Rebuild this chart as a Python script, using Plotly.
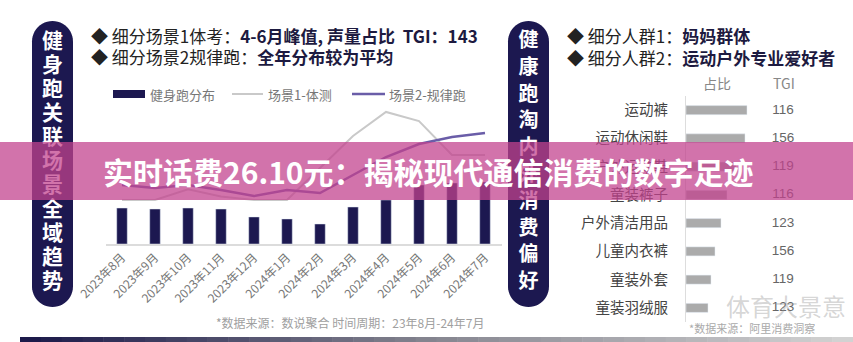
import plotly.graph_objects as go

W, H = 853, 342
FONT = "Noto Sans CJK SC, Noto Sans, sans-serif"

# ---------------- data ----------------
months = ["2023年8月", "2023年9月", "2023年10月", "2023年11月", "2023年12月", "2024年1月",
          "2024年2月", "2024年3月", "2024年4月", "2024年5月", "2024年6月", "2024年7月"]
run_dist = [25.0, 24.3, 25.0, 24.3, 18.8, 17.4, 13.9, 25.7, 30.6, 41.0, 42.4, 43.1]
scene1_test = [30.6, 30.6, 38.0, 33.0, 30.6, 30.6, 52.8, 75.0, 91.7, 85.4, 61.8, 61.8]
scene2_run = [41.0, 38.9, 41.0, 37.5, 33.3, 37.5, 35.4, 47.9, 60.4, 69.4, 74.3, 77.1]

categories = ["运动裤", "运动休闲鞋", "户外运动鞋", "童装裤子", "户外清洁用品", "儿童内衣裤", "童装外套", "童装羽绒服"]
share = [6.1, 5.9, 5.0, 4.1, 3.5, 2.9, 2.5, 2.2]
tgi = [116, 156, 119, 116, 123, 156, 119, 123]

left_pill_text = list("健身跑关联场景全域趋势")
right_pill_text = list("健康跑淘内外消费偏好")

NAVY = "#1c1850"
GRAY_LINE = "#c9c9c9"
PURPLE = "#6a5da8"
BAR_GRAY = "#ababab"


def fx(px):
    return px / W


def fy(py):
    return 1 - py / H


fig = go.Figure()

# ---------------- left chart ----------------
fig.add_trace(go.Bar(x=months, y=run_dist, marker_color=NAVY, width=0.32,
                     xaxis="x", yaxis="y", showlegend=False))
fig.add_trace(go.Scatter(x=months, y=scene1_test, mode="lines",
                         line=dict(color=GRAY_LINE, width=2), xaxis="x", yaxis="y", showlegend=False))
fig.add_trace(go.Scatter(x=months, y=scene2_run, mode="lines",
                         line=dict(color=PURPLE, width=2.5), xaxis="x", yaxis="y", showlegend=False))

# ---------------- right chart ----------------
fig.add_trace(go.Bar(y=categories, x=share, orientation="h", marker_color=BAR_GRAY, width=0.32,
                     xaxis="x2", yaxis="y2", showlegend=False))
fig.add_trace(go.Scatter(y=categories, x=[9.7] * len(categories), mode="text",
                         text=[str(v) for v in tgi],
                         textfont=dict(family="Liberation Sans, Arial", size=13.5, color="#666"),
                         xaxis="x2", yaxis="y2", showlegend=False, cliponaxis=False))

# ---------------- pill texts (on pixel overlay axes) ----------------
lp_y = [43 + 24 * i for i in range(len(left_pill_text))]
rp_y = [42 + 26.8 * i for i in range(len(right_pill_text))]
fig.add_trace(go.Scatter(x=[52.5] * len(left_pill_text), y=lp_y, mode="text", text=left_pill_text,
                         textfont=dict(family=FONT, size=21, color="white", weight="bold"),
                         xaxis="x3", yaxis="y3", showlegend=False, cliponaxis=False))
fig.add_trace(go.Scatter(x=[528.5] * len(right_pill_text), y=rp_y, mode="text", text=right_pill_text,
                         textfont=dict(family=FONT, size=20, color="white", weight="bold"),
                         xaxis="x3", yaxis="y3", showlegend=False, cliponaxis=False))


def pill_path(x0, x1, y0, y1, n=24):
    import math
    r = (x1 - x0) / 2
    cx = (x0 + x1) / 2
    pts = []
    for i in range(n + 1):
        t = math.pi - math.pi * i / n
        pts.append((cx + r * math.cos(t), y0 + r - r * math.sin(t)))
    for i in range(n + 1):
        t = -math.pi * i / n
        pts.append((cx + r * math.cos(t), y1 - r - r * math.sin(t)))
    return "M " + " L ".join(f"{x:.2f},{y:.2f}" for x, y in pts) + " Z"


shapes = []
shapes.append(dict(type="path", path=pill_path(32, 73, 21, 307), xref="x3", yref="y3",
                   fillcolor=NAVY, line=dict(width=0), layer="below"))
shapes.append(dict(type="path", path=pill_path(508, 549, 21, 307), xref="x3", yref="y3",
                   fillcolor=NAVY, line=dict(width=0), layer="below"))

# legend swatches
shapes.append(dict(type="rect", x0=113, x1=145, y0=90, y1=98, xref="x3", yref="y3",
                   fillcolor=NAVY, line=dict(width=0), layer="below"))
shapes.append(dict(type="line", x0=232, x1=263, y0=94, y1=94, xref="x3", yref="y3",
                   line=dict(color=GRAY_LINE, width=2), layer="below"))
shapes.append(dict(type="line", x0=352, x1=385, y0=94, y1=94, xref="x3", yref="y3",
                   line=dict(color=PURPLE, width=2.5), layer="below"))

# bottom gradient strip
def lerp(a, b, t):
    return tuple(int(a[i] + (b[i] - a[i]) * t) for i in range(3))

c0, c1, c2 = (28, 26, 74), (135, 135, 145), (210, 210, 210)
nseg = 40
x_start, x_end = 20, 853
for i in range(nseg):
    t = i / (nseg - 1)
    col = lerp(c0, c1, t * 2) if t < 0.5 else lerp(c1, c2, (t - 0.5) * 2)
    xa = x_start + (x_end - x_start) * i / nseg
    xb = x_start + (x_end - x_start) * (i + 1) / nseg + 0.5
    shapes.append(dict(type="rect", x0=xa, x1=xb, y0=337, y1=343, xref="x3", yref="y3",
                       fillcolor="rgb(%d,%d,%d)" % col, line=dict(width=0), layer="below"))

# banner
shapes.append(dict(type="rect", x0=0, x1=W, y0=142, y1=200, xref="x3", yref="y3",
                   fillcolor="rgba(194,66,142,0.74)", line=dict(width=0), layer="above"))

annotations = []


def ann(text, x, y, size, color="#333", xanchor="left", family=FONT, **kw):
    annotations.append(dict(text=text, x=x, y=y, xref="x3", yref="y3", showarrow=False,
                            xanchor=xanchor, yanchor="middle",
                            font=dict(family=family, size=size, color=color), **kw))


DARK = "#1d1a40"
ann("◆ 细分场景1体考：<b><span style='color:%s'>4-6月峰值, 声量占比\u00a0\u00a0TGI：143</span></b>" % DARK,
    89, 35, 17, color="#222")
ann("◆ 细分场景2规律跑：<b><span style='color:%s'>全年分布较为平均</span></b>" % DARK,
    89, 56, 17, color="#222")
ann("◆ 细分人群1：<b><span style='color:%s'>妈妈群体</span></b>" % DARK, 565, 35, 17, color="#222")
ann("◆ 细分人群2：<b><span style='color:%s'>运动户外专业爱好者</span></b>" % DARK, 565, 57, 17, color="#222")

ann("健身跑分布", 148, 94, 13, color="#777")
ann("场景1-体测", 266, 94, 13, color="#777")
ann("场景2-规律跑", 387, 94, 13, color="#777")

ann("占比", 717, 83, 14, color="#888", xanchor="center")
ann("TGI", 784, 83, 14, color="#888", xanchor="center")

ann("*数据来源：数说聚合 时间周期：23年8月-24年7月", 350, 322, 12, color="#a0a0a0", xanchor="center")
ann("*数据来源：阿里消费洞察", 687, 328, 11, color="#aaa")
ann("体育大景意", 786, 305, 24, color="rgba(150,150,150,0.4)", xanchor="center")

ann("<b>实时话费26.10元：揭秘现代通信消费的数字足迹</b>", 428, 171, 30, color="white", xanchor="center")

fig.update_layout(
    width=W, height=H, margin=dict(l=0, r=0, t=0, b=0, autoexpand=False),
    paper_bgcolor="white", plot_bgcolor="rgba(0,0,0,0)",
    shapes=shapes, annotations=annotations, showlegend=False,
    bargap=0.5,
    xaxis=dict(domain=[fx(105.5), fx(501.5)], anchor="y", type="category", automargin=False,
               range=[-0.5, 11.5], showline=True, linecolor="#dcdcdc", linewidth=1.5,
               showgrid=False, zeroline=False, ticks="", tickangle=-45,
               tickfont=dict(family=FONT, size=12, color="#777")),
    yaxis=dict(domain=[fy(244), fy(100)], anchor="x", range=[0, 100], visible=False,
               automargin=False, showgrid=False, zeroline=False),
    xaxis2=dict(domain=[fx(686), fx(786)], anchor="y2", range=[0, 10], visible=False,
                automargin=False, showgrid=False, zeroline=False),
    yaxis2=dict(domain=[fy(322), fy(96)], anchor="x2", type="category", automargin=False,
                range=[len(categories) - 0.5, -0.5], showline=True, linecolor="#dddddd",
                linewidth=1, showgrid=False, zeroline=False, ticks="", ticklabelstandoff=14,
                tickfont=dict(family=FONT, size=14.5, color="#444")),
    xaxis3=dict(domain=[0, 1], anchor="y3", range=[0, W], visible=False, showgrid=False,
                automargin=False, zeroline=False),
    yaxis3=dict(domain=[0, 1], anchor="x3", range=[H, 0], visible=False, showgrid=False,
                automargin=False, zeroline=False),
)

fig.write_html("out.html")
